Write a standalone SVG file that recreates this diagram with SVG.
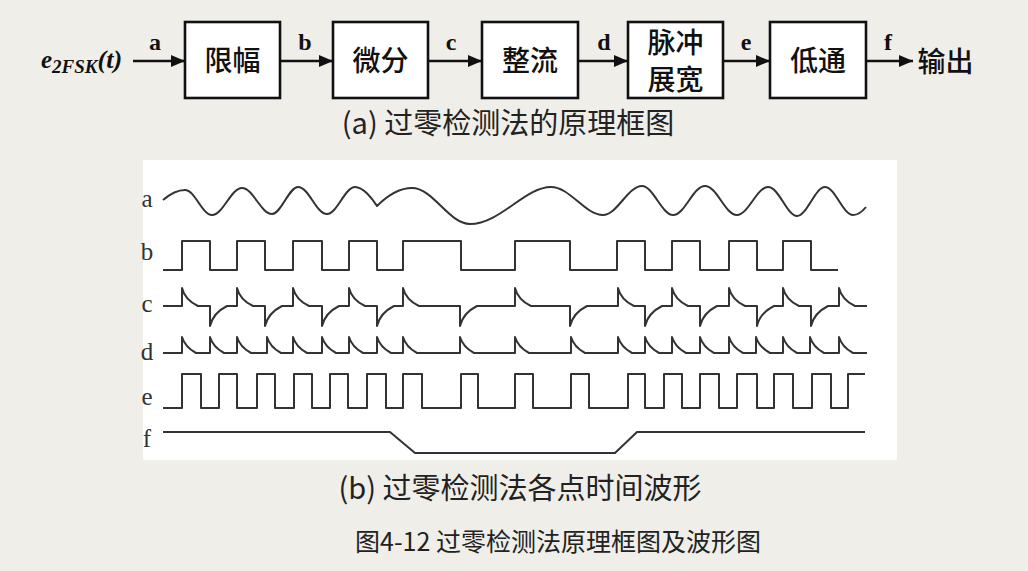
<svg xmlns="http://www.w3.org/2000/svg" width="1028" height="571" viewBox="0 0 1028 571">
<defs>
<style>
.box{fill:#fff;stroke:#111;stroke-width:2.6}
.bt{font-family:"Noto Sans CJK SC","Noto Sans CJK TC",sans-serif;font-size:28px;fill:#111;text-anchor:middle;font-weight:500}
.lab{font-family:"Liberation Serif",serif;font-weight:bold;font-size:24px;fill:#111;text-anchor:middle}
.conn{stroke:#111;stroke-width:2.6;fill:none}
.cap{font-family:"Noto Sans CJK SC",sans-serif;fill:#222;text-anchor:middle}
.wl{font-family:"Liberation Serif",serif;font-size:25px;fill:#333;text-anchor:middle}
.wave{fill:none;stroke:#333;stroke-width:2;stroke-linejoin:round}
</style>
<marker id="ah" markerWidth="14" markerHeight="12" refX="14" refY="6" orient="auto" markerUnits="userSpaceOnUse"><path d="M0,0 L14,6 L0,12 z" fill="#111"/></marker>
</defs>
<rect width="1028" height="571" fill="#f0eee9"/>

<!-- block diagram -->
<g id="input"><text x="41" y="68" font-family="Liberation Serif,serif" font-weight="bold" font-style="italic" font-size="25" fill="#111">e<tspan font-size="19" dy="5">2FSK</tspan><tspan font-size="26" dy="-5">(t)</tspan></text></g>
<g id="n1"><rect class="box" x="185" y="22" width="95" height="76"/><text class="bt" x="232.5" y="70.5">限幅</text></g>
<g id="n2"><rect class="box" x="333" y="22" width="95" height="76"/><text class="bt" x="380.5" y="70.5">微分</text></g>
<g id="n3"><rect class="box" x="482" y="22" width="96" height="76"/><text class="bt" x="530" y="70.5">整流</text></g>
<g id="n4"><rect class="box" x="628" y="22" width="95" height="76"/><text class="bt" x="675.5" y="53" font-size="25">脉冲</text><text class="bt" x="675.5" y="90" font-size="25">展宽</text></g>
<g id="n5"><rect class="box" x="770" y="22" width="96" height="76"/><text class="bt" x="818" y="70.5">低通</text></g>
<g id="output"><text class="bt" x="945.5" y="72">输出</text></g>

<g id="connectors">
<line class="conn" x1="133" y1="61" x2="185" y2="61" marker-end="url(#ah)"/>
<line class="conn" x1="280" y1="61" x2="333" y2="61" marker-end="url(#ah)"/>
<line class="conn" x1="428" y1="61" x2="482" y2="61" marker-end="url(#ah)"/>
<line class="conn" x1="578" y1="61" x2="628" y2="61" marker-end="url(#ah)"/>
<line class="conn" x1="723" y1="61" x2="770" y2="61" marker-end="url(#ah)"/>
<line class="conn" x1="866" y1="61" x2="913" y2="61" marker-end="url(#ah)"/>
<text class="lab" x="155" y="50">a</text>
<text class="lab" x="305" y="50">b</text>
<text class="lab" x="451" y="50">c</text>
<text class="lab" x="604" y="50">d</text>
<text class="lab" x="746" y="50">e</text>
<text class="lab" x="888" y="50">f</text>
</g>

<text class="cap" x="508" y="134" font-size="29">(a) 过零检测法的原理框图</text>

<!-- waveform panel -->
<rect x="143" y="160" width="754" height="300" fill="#fff"/>
<text class="wl" x="147" y="207">a</text>
<text class="wl" x="147" y="260">b</text>
<text class="wl" x="147" y="312">c</text>
<text class="wl" x="147" y="360">d</text>
<text class="wl" x="147" y="405">e</text>
<text class="wl" x="147" y="447">f</text>

<path class="wave" d="M163,200 C170,194 177,190 185,190 C195,190 202,215 212,215 C223,215 231,188 242,188 C253,188 261,214 272,214 C281,214 289,187 298,187 C309,187 316,214 327,214 C337,214 345,187 355,187 C363,187 372,198 377,206 C385,198 398,188 412,188 C433,188 449,224 470,224 C500,224 525,187 551,187 C570,187 585,215 603,215 C617,215 628,186 642,186 C653,186 662,215 673,215 C685,215 693,186 705,186 C717,186 725,215 737,215 C748,215 757,187 768,187 C779,187 787,216 797,216 C807,216 815,187 825,187 C835,187 843,215 853,215 C858,215 862,212 866,207"/>

<path class="wave" d="M163,270 H182 V241 H210 V270 H237 V241 H265 V270 H293 V241 H322 V270 H349 V241 H377 V270 H403 V241 H461 V270 H515 V241 H570 V270 H617 V241 H645 V270 H672 V241 H700 V270 H729 V241 H757 V270 H783 V241 H811 V270 H838"/>

<path class="wave" d="M163,306 H182 V288 Q185,300 198,306 H210 V326 Q213,313 227,306 H237 V288 Q240,300 253,306 H265 V326 Q268,313 282,306 H293 V288 Q296,300 309,306 H322 V326 Q325,313 339,306 H349 V288 Q352,300 365,306 H377 V326 Q380,313 394,306 H403 V288 Q406,300 419,306 H460 V326 Q463,313 477,306 H515 V288 Q518,300 531,306 H570 V326 Q573,313 587,306 H618 V288 Q621,300 634,306 H645 V326 Q648,313 662,306 H672 V288 Q675,300 688,306 H700 V326 Q703,313 717,306 H729 V288 Q732,300 745,306 H757 V326 Q760,313 774,306 H783 V288 Q786,300 799,306 H811 V326 Q814,313 828,306 H839 V288 Q842,300 855,306 H867"/>

<path class="wave" d="M163,353 H182 V337 Q185,347 196,353 H210 V337 Q213,347 224,353 H237 V337 Q240,347 251,353 H267 V337 Q270,347 281,353 H293 V337 Q296,347 307,353 H322 V337 Q325,347 336,353 H349 V337 Q352,347 363,353 H377 V337 Q380,347 391,353 H403 V337 Q406,347 417,353 H460 V337 Q463,347 474,353 H515 V337 Q518,347 529,353 H571 V337 Q574,347 585,353 H618 V337 Q621,347 632,353 H645 V337 Q648,347 659,353 H672 V337 Q675,347 686,353 H700 V337 Q703,347 714,353 H729 V337 Q732,347 743,353 H756 V337 Q759,347 770,353 H783 V337 Q786,347 797,353 H810 V337 Q813,347 824,353 H839 V337 Q842,347 853,353 H867"/>

<path class="wave" d="M163,408 H182 V374 H201 V408 H219 V374 H237 V408 H257 V374 H275 V408 H294 V374 H312 V408 H330 V374 H348 V408 H367 V374 H386 V408 H403 V374 H422 V408 H461 V374 H478 V408 H515 V374 H533 V408 H571 V374 H589 V408 H628 V374 H645 V408 H664 V374 H682 V408 H700 V374 H719 V408 H737 V374 H757 V408 H774 V374 H793 V408 H812 V374 H831 V408 H848 V374 H865"/>

<path class="wave" stroke="#3c4654" d="M163,432 H390 L415,453 H615 L637,432 H865"/>

<text class="cap" x="520" y="499" font-size="29">(b) 过零检测法各点时间波形</text>
<text class="cap" x="558" y="551" font-size="25">图4-12 过零检测法原理框图及波形图</text>
</svg>
